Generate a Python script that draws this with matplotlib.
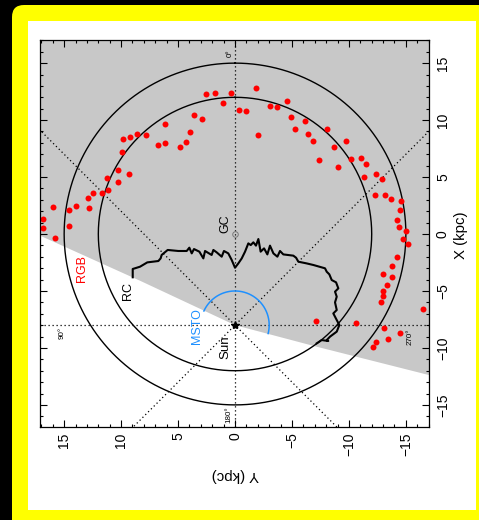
import numpy as np
import matplotlib
matplotlib.use('Agg')
import matplotlib.pyplot as plt
from matplotlib.patches import FancyBboxPatch, Rectangle, Polygon
from matplotlib.ticker import MultipleLocator

plt.rcParams['font.family'] = ['Liberation Sans', 'DejaVu Sans']

# ---- data (Galactocentric Y, X in kpc) ----
rgb_y = [16.89, 16.89, 15.8, 16.0, 14.55, 13.99, 14.55, 12.88, 12.44, 12.79, 11.71, 11.12, 11.27,
         10.30, 10.30, 9.34, 9.92, 9.86, 9.19, 8.60, 7.84, 6.73, 6.17, 6.12, 4.80, 4.33, 3.92, 3.60,
         2.90, 2.52, 1.79, 1.02, 0.38, -0.32, -1.0, -1.81, -2.02, -3.07, -3.72, -4.54, -4.89, -5.30,
         -6.17, -6.44, -6.88, -8.05, -7.40, -8.66, -9.01, -9.77, -10.21, -11.09, -11.47, -11.33,
         -12.38, -12.88, -12.26, -13.17, -13.7, -14.57, -14.49, -14.19, -14.43, -14.98, -14.78,
         -15.19, -14.19, -13.75, -13.02, -13.81, -13.32, -12.96, -12.96, -12.79, -16.54, -7.14,
         -10.62, -13.11, -14.46, -13.40, -12.38, -12.12]
rgb_x = [1.32, 0.56, -0.32, 2.34, 2.1, 2.49, 0.70, 3.13, 3.57, 2.28, 3.63, 3.86, 4.89, 5.62, 4.59,
         5.24, 7.17, 8.31, 8.55, 8.78, 8.66, 7.81, 7.96, 9.66, 7.64, 8.08, 8.96, 10.42, 10.10, 12.32,
         12.38, 11.50, 12.35, 10.86, 10.77, 12.85, 8.66, 11.21, 11.12, 11.68, 10.30, 9.25, 9.92, 8.75,
         8.17, 9.19, 6.47, 7.64, 5.85, 8.19, 6.58, 6.67, 6.12, 4.98, 5.27, 4.83, 3.42, 3.39, 3.07,
         2.93, 2.11, 1.20, 0.61, 0.29, -0.47, -0.91, -1.99, -2.78, -3.54, -3.78, -4.45, -5.03, -5.47,
         -6.0, -6.58, -7.64, -7.78, -8.22, -8.72, -9.19, -9.51, -9.92]

rc_y = [8.98, 8.98, 8.34, 7.70, 6.73, 6.53, 6.44, 5.91, 4.98, 4.24, 4.01, 3.80, 3.60, 3.13, 2.78,
        2.63, 2.05, 1.90, 1.61, 1.17, 0.97, 0.59, 0.29, 0.0, -0.29, -0.59, -0.88, -1.17, -1.38,
        -1.61, -1.84, -2.05, -2.25, -2.55, -2.84, -3.07, -3.37, -3.72, -3.95, -4.24, -5.12, -5.36,
        -5.56, -6.29, -6.88, -7.90, -8.05, -8.28, -8.49, -8.87, -9.07, -8.78, -8.93, -8.78, -8.93,
        -8.63, -8.93, -9.16, -8.93, -8.34, -8.05, -8.19, -7.61, -7.17]
rc_x = [-3.80, -3.07, -2.87, -2.49, -2.37, -2.14, -1.84, -1.40, -1.49, -1.49, -1.20, -1.70, -1.32,
        -1.55, -2.14, -1.49, -1.84, -1.40, -1.61, -1.99, -1.49, -1.70, -2.28, -2.96, -2.58, -2.14,
        -1.55, -0.82, -0.97, -0.73, -1.02, -0.44, -1.55, -1.26, -1.79, -1.02, -1.70, -1.99, -1.49,
        -1.79, -1.90, -2.08, -2.43, -2.58, -2.72, -3.01, -3.31, -3.54, -4.04, -4.24, -4.77, -5.06,
        -5.50, -6.00, -6.67, -6.97, -7.55, -7.99, -8.57, -9.01, -9.31, -9.39, -9.31, -9.60]

footprint_y = [17.5, 8.34, 0.0, -7.0, -17.5]
footprint_x = [0.03, -4.1, -8.0, -9.85, -12.5]

sun = (0.0, -8.0)
gc = (0.0, 0.0)
ring_radii = [12, 15]
msto_radius = 3.0
msto_l = (65.5, -104.2)
major_ticks = [-15, -10, -5, 0, 5, 10, 15]

# ---- figure ----
W, H = 479, 520
fig = plt.figure(figsize=(W / 100, H / 100), dpi=100)
fig.patch.set_facecolor('black')
fig.add_artist(FancyBboxPatch((0.12, -0.3), 5.0, 5.45,
                              boxstyle='round,pad=0,rounding_size=0.12',
                              transform=fig.dpi_scale_trans, fc='#FFFF00', ec='none', zorder=-10))
fig.add_artist(Rectangle((0.28, 0.10), 4.48, 4.89, transform=fig.dpi_scale_trans,
                         fc='white', ec='none', zorder=-9))

ax = fig.add_axes([40 / W, 93 / H, 389 / W, 387 / H])
ax.set_facecolor('white')
ax.set_xlim(17.12, -17.03)
ax.set_ylim(-16.94, 17.03)

verts = list(zip(footprint_y, footprint_x)) + [(-17.5, 17.5), (17.5, 17.5)]
ax.add_patch(Polygon(verts, closed=True, fc='#c8c8c8', ec='none', zorder=0))

dot_kw = dict(color='black', lw=0.9, ls=(0, (1, 2.2)), zorder=1)
ax.axvline(sun[0], **dot_kw)
ax.axhline(sun[1], **dot_kw)
ax.axline(sun, slope=1, **dot_kw)
ax.axline(sun, slope=-1, **dot_kw)

th = np.linspace(0, 2 * np.pi, 721)
for R in ring_radii:
    ax.plot(gc[0] + R * np.sin(th), gc[1] + R * np.cos(th), color='black', lw=1.0, zorder=2)

ax.plot(rc_y, rc_x, color='black', lw=1.5, zorder=3)

l = np.radians(np.linspace(msto_l[0], msto_l[1], 200))
ax.plot(sun[0] + msto_radius * np.sin(l), sun[1] + msto_radius * np.cos(l),
        color='#1E90FF', lw=1.1, zorder=3)

ax.plot(rgb_y, rgb_x, 'o', color='#FF0000', ms=4.3, mec='none', zorder=4)

ax.plot(*sun, marker='*', color='black', ms=6, zorder=5)
ax.plot(*gc, marker='o', mfc='none', mec='#777777', ms=4, mew=0.7, zorder=5)

# labels
tk = dict(rotation=90, ha='center', va='center')
ax.text(13.46, -3.01, 'RGB', color='#FF0000', fontsize=9, **tk)
ax.text(9.42, -5.0, 'RC', color='black', fontsize=9, **tk)
ax.text(3.37, -8.08, 'MSTO', color='#1E90FF', fontsize=9, **tk)
ax.text(0.88, -9.9, 'Sun', color='black', fontsize=9.5, **tk)
ax.text(0.85, 0.88, 'GC', color='black', fontsize=9, **tk)
ax.text(0.44, 15.86, '0°', fontsize=5.8, **tk)
ax.text(15.2, -8.72, '90°', fontsize=5.8, **tk)
ax.text(0.5, -15.9, '180°', fontsize=5.8, **tk)
ax.text(-15.4, -9.0, '270°', fontsize=5.8, **tk)

# ticks
ax.set_xticks(major_ticks)
ax.set_yticks(major_ticks)
ax.xaxis.set_minor_locator(MultipleLocator(1))
ax.yaxis.set_minor_locator(MultipleLocator(1))
ax.tick_params(which='both', direction='in', top=True, bottom=True, left=True, right=True,
               labelleft=False, labelright=True, labelbottom=True, labeltop=False,
               width=0.8, labelsize=10)
ax.tick_params(which='major', length=4.8)
ax.tick_params(which='minor', length=2.4)
ax.tick_params(axis='x', labelrotation=90, pad=4)
ax.tick_params(axis='y', labelrotation=90, pad=5)
for lab in ax.get_yticklabels():
    lab.set_va('center')
for s in ax.spines.values():
    s.set_linewidth(0.9)
    s.set_zorder(6)

fig.text(235 / W, 1 - 475 / H, 'Y (kpc)', rotation=180, ha='center', va='center', fontsize=10.8)
fig.text(461.5 / W, 1 - 235 / H, 'X (kpc)', rotation=90, ha='center', va='center', fontsize=10.8)

fig.savefig('out.png', dpi=100, facecolor='black')
